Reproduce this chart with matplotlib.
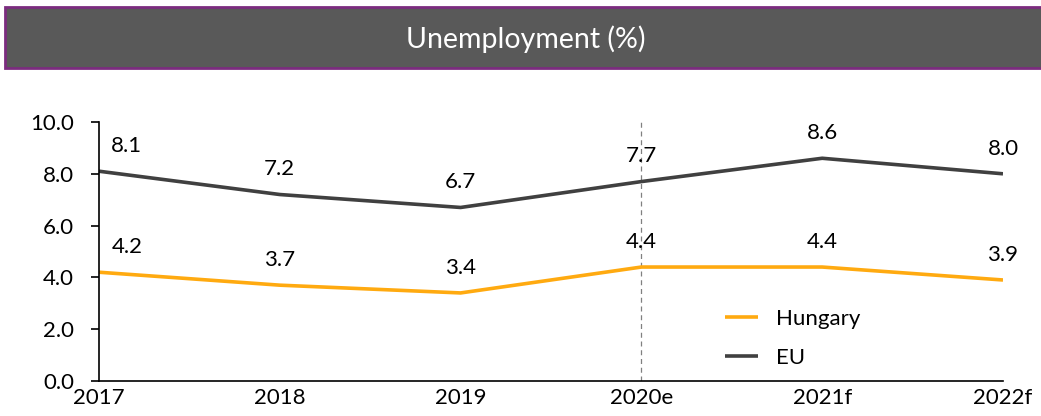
import matplotlib
matplotlib.use("Agg")
import matplotlib.pyplot as plt
from matplotlib.patches import Rectangle

years = ["2017", "2018", "2019", "2020e", "2021f", "2022f"]
hungary = [4.2, 3.7, 3.4, 4.4, 4.4, 3.9]
eu = [8.1, 7.2, 6.7, 7.7, 8.6, 8.0]
yticks = [0.0, 2.0, 4.0, 6.0, 8.0, 10.0]
title = "Unemployment (%)"

plt.rcParams['font.family'] = ['Lato', 'DejaVu Sans']

W, H = 1041, 416
fig = plt.figure(figsize=(W / 100, H / 100), dpi=100)

# Title banner
banner = Rectangle((5 / W, 1 - 68 / H), (W + 5) / W, 61 / H, transform=fig.transFigure,
                   facecolor="#595959", edgecolor="#7B2C7F", linewidth=2.0)
fig.patches.append(banner)
fig.text(526 / W, 1 - 39 / H, title, color="white", fontsize=20.5, ha="center", va="center")

ax = fig.add_axes([99 / W, 1 - 381 / H, (1003 - 99) / W, (381 - 122) / H])
x = list(range(len(years)))
ax.plot(x, hungary, color="#FFAA10", lw=2.6, label="Hungary", solid_capstyle="butt")
ax.plot(x, eu, color="#404040", lw=2.6, label="EU", solid_capstyle="butt")
ax.axvline(3, color="#808080", lw=0.9, ls=(0, (4, 3)), zorder=0)

fs = 16
ax.set_xlim(0, len(years) - 1)
ax.set_ylim(0, 10)
ax.set_yticks(yticks)
ax.set_yticklabels([f"{v:.1f}" for v in yticks])
ax.set_xticks(x)
ax.set_xticklabels(years)
ax.tick_params(axis="y", direction="out", length=6, width=1.2, labelsize=fs, pad=12)
ax.tick_params(axis="x", length=0, labelsize=fs, pad=5)
for s in ["top", "right"]:
    ax.spines[s].set_visible(False)
ax.spines["left"].set_linewidth(1.2)
ax.spines["bottom"].set_linewidth(1.2)
ax.spines["left"].set_zorder(5)

for series in (hungary, eu):
    for i, v in enumerate(series):
        dx = 20 if i == 0 else 0
        ax.annotate(f"{v:.1f}", (i, v), xytext=(dx, 11), textcoords="offset points",
                    ha="center", va="bottom", fontsize=fs, color="black",
                    annotation_clip=False)

leg = ax.legend(loc="upper left", bbox_to_anchor=(0.67, 0.355), frameon=False,
                fontsize=fs, handlelength=1.5, labelspacing=0.85, handletextpad=0.8)

fig.savefig("out.png", dpi=100)
